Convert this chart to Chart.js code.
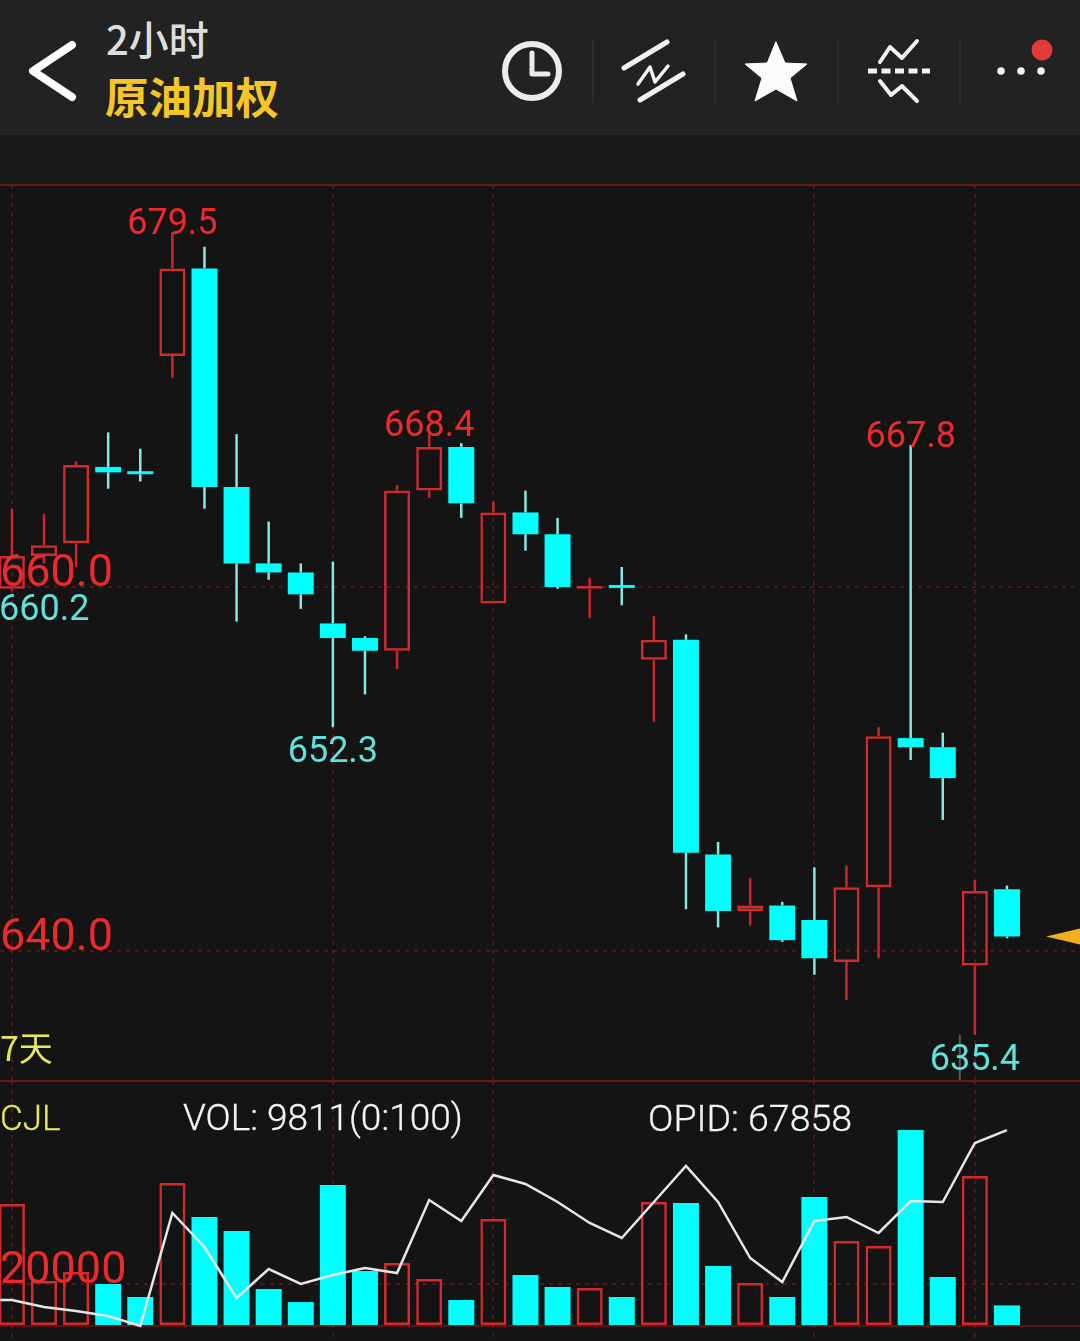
<!DOCTYPE html>
<html>
<head>
<meta charset="utf-8">
<script src="https://cdn.jsdelivr.net/npm/chart.js@4"></script>
<style>
html, body { margin: 0; padding: 0; background: #141415; }
#page { position: relative; width: 1080px; height: 1341px; overflow: hidden; background: #141415; font-family: Roboto, sans-serif; }
#head { position: absolute; left: 0; top: 0; width: 1080px; height: 135px; background: #222222; }
#band { position: absolute; left: 0; top: 135px; width: 1080px; height: 50px; background: #181818; }
#head svg { position: absolute; left: 0; top: 0; }
.txt { position: absolute; white-space: nowrap; line-height: 1; }
#period { left: 106px; top: 9px; font: 500 40px "Noto Sans CJK SC"; line-height: 58px; color: #dedede; }
#name { left: 105px; top: 64px; font: bold 43.5px "Noto Sans CJK SC"; line-height: 64px; color: #f5c52a; }
#days { left: 0; top: 1022px; font: 34px "Noto Sans CJK SC"; line-height: 50px; color: #e8e85a; }
#cjl { left: 0; top: 1098px; font: 300 35px Roboto; color: #e8e85a; -webkit-text-stroke: .3px #e8e85a; }
#vol { left: 183px; top: 1096px; font: 300 37px Roboto; color: #f4f4f4; -webkit-text-stroke: .3px #f4f4f4; }
#opid { left: 648px; top: 1096px; font: 300 37.5px Roboto; color: #f4f4f4; -webkit-text-stroke: .3px #f4f4f4; }
canvas { position: absolute; left: 0; }
#priceChart { top: 185px; }
#volChart { top: 1081px; }
.rule { position: absolute; left: 0; width: 1080px; height: 2px; background: #651a1e; }
</style>
</head>
<body>
<div id="page">
  <div id="head">
    <svg width="1080" height="135" fill="none" stroke-linecap="round" stroke-linejoin="round">
      <polyline points="72,45 33,71 72,97" stroke="#fff" stroke-width="8"/>
      <circle cx="532" cy="71" r="27" stroke="#ececec" stroke-width="6"/>
      <polyline points="532,53 532,74 548,74" stroke="#ececec" stroke-width="5"/>
      <g stroke="#2e2e2e" stroke-width="2">
        <line x1="593" y1="40" x2="593" y2="102"/>
        <line x1="715" y1="40" x2="715" y2="102"/>
        <line x1="838" y1="40" x2="838" y2="102"/>
        <line x1="960" y1="40" x2="960" y2="102"/>
      </g>
      <g stroke="#f2f2f2" stroke-width="5">
        <line x1="624" y1="68" x2="667" y2="42"/>
        <line x1="640" y1="100" x2="683" y2="74"/>
      </g>
      <polyline points="638,84 650,67 655,82 668,66" stroke="#f2f2f2" stroke-width="3.5"/>
      <polygon points="776,42 785,63 807,64 790,78 797,101 776,89 755,101 762,78 745,64 767,63" fill="#fbfbfb" stroke="#fbfbfb" stroke-width="1"/>
      <line x1="868" y1="71" x2="930" y2="71" stroke="#f2f2f2" stroke-width="5" stroke-dasharray="9 4.5" stroke-linecap="butt"/>
      <polyline points="880,62 890,47 902,58 917,41" stroke="#f2f2f2" stroke-width="4"/>
      <polyline points="880,81 891,95 902,86 917,101" stroke="#f2f2f2" stroke-width="4"/>
      <g fill="#f2f2f2">
        <circle cx="1001" cy="71" r="3.8"/>
        <circle cx="1021" cy="71" r="3.8"/>
        <circle cx="1041" cy="71" r="3.8"/>
      </g>
      <circle cx="1042" cy="50" r="10.5" fill="#e23a3a"/>
    </svg>
    <span class="txt" id="period">2小时</span>
    <span class="txt" id="name">原油加权</span>
  </div>
  <div id="band"></div>
  <div class="rule" style="top:184px"></div>
  <canvas id="priceChart" width="1080" height="896"></canvas>
  <div class="rule" style="top:1080px"></div>
  <canvas id="volChart" width="1080" height="260"></canvas>
  <span class="txt" id="days">7天</span>
  <span class="txt" id="cjl">CJL</span>
  <span class="txt" id="vol">VOL: 9811(0:100)</span>
  <span class="txt" id="opid">OPID: 67858</span>
</div>
<script>
const opens  = [659.9, 661.7, 662.4, 666.6, 666.3, 672.7, 677.5, 665.5, 661.3, 660.8, 658.0, 657.2, 656.5, 665.3, 667.7, 659.1, 664.1, 662.9, 659.9, 660.05, 656.0, 657.1, 645.3, 642.2, 642.5, 641.7, 639.4, 643.5, 651.7, 651.2, 639.2, 643.4];
const closes = [661.7, 662.3, 666.7, 666.3, 666.2, 677.5, 665.5, 661.3, 660.8, 659.6, 657.2, 656.5, 665.3, 667.7, 664.6, 664.1, 662.9, 660.0, 660.05, 659.95, 657.1, 645.4, 642.2, 642.5, 640.6, 639.6, 643.5, 651.8, 651.2, 649.5, 643.3, 640.8];
const highs  = [664.3, 664.0, 666.9, 668.5, 667.6, 679.5, 678.7, 668.4, 663.6, 661.3, 661.4, 657.3, 665.6, 668.4, 667.9, 664.7, 665.3, 663.8, 660.5, 661.1, 658.4, 657.4, 646.0, 644.0, 642.7, 644.6, 644.7, 652.3, 667.8, 652.0, 643.9, 643.6];
const lows   = [659.8, 661.3, 661.1, 665.4, 665.8, 671.5, 664.3, 658.1, 660.4, 658.8, 652.3, 654.1, 655.5, 664.9, 663.8, 659.1, 662.0, 659.9, 658.3, 659.0, 652.6, 642.3, 641.3, 641.4, 640.5, 638.7, 637.3, 639.6, 650.5, 647.2, 635.4, 640.7];
const volumes = [58100, 21400, 25700, 20000, 13800, 68100, 51900, 45200, 17600, 11400, 67100, 26200, 30000, 22400, 12400, 51000, 24300, 18600, 18100, 13800, 59000, 58600, 28600, 20500, 13800, 61400, 40500, 38100, 93300, 23300, 71400, 9811];
const opidBefore = 61060;
const opid = [61060, 60780, 60620, 60420, 60020, 64540, 63180, 61140, 62300, 61700, 62060, 62340, 62140, 65060, 64220, 66060, 65700, 64980, 64140, 63540, 64980, 66420, 64980, 62740, 61780, 64220, 64380, 63740, 65020, 64980, 67340, 67858];
const gridIndexes = [0, 10, 15, 25, 30];
const priceTicks = [660, 640];
const volumeTicks = [0, 20000];
const peakIndexes = [5, 13, 28];
const peakValues = [679.5, 668.4, 667.8];
const troughIndexes = [10, 30];
const troughValues = [652.3, 635.4];
const leftLowLabel = 660.2;
const markerIndex = 29.53;

const RED = "#d42a2c", CYAN = "#00ffff", GRID = "rgba(125,24,28,.6)";
const xRange = { min: -0.37, max: 33.275 };
const isUp = i => closes[i] >= opens[i];
const wickColor = ctx => isUp(ctx.dataIndex) ? "#c8282a" : "#84e8e4";

// mirrored tick labels must not shrink the plot
const noLabelPadding = axis => { axis.paddingTop = 0; axis.paddingBottom = 0; };

function xAxis() {
    return Object.assign({
        type: "linear",
        offset: false,
        afterBuildTicks: axis => { axis.ticks = gridIndexes.map(value => ({ value })); },
        ticks: { display: false },
        border: { display: false, dash: [4, 5] },
        grid: { offset: false, color: GRID, lineWidth: 2, drawTicks: false, tickLength: 0 }
    }, xRange);
}

const labelPlugin = {
    id: "priceLabels",
    afterDatasetsDraw(chart) {
        const { ctx, scales: { x, y } } = chart;
        ctx.save();
        ctx.font = "36px Roboto";
        ctx.textAlign = "center";
        ctx.textBaseline = "bottom";
        ctx.fillStyle = "#ec2a2c";
        peakIndexes.forEach((idx, n) => {
            ctx.fillText(peakValues[n].toFixed(1), x.getPixelForValue(idx), y.getPixelForValue(peakValues[n]) + 11);
        });
        ctx.textBaseline = "top";
        ctx.fillStyle = "#62e0dc";
        troughIndexes.forEach((idx, n) => {
            ctx.fillText(troughValues[n].toFixed(1), x.getPixelForValue(idx), y.getPixelForValue(troughValues[n]) + 8);
        });
        ctx.textAlign = "left";
        ctx.fillText(leftLowLabel.toFixed(1), -1, y.getPixelForValue(leftLowLabel) + 10);

        // last price arrow at the right edge
        const py = y.getPixelForValue(closes[closes.length - 1]);
        ctx.fillStyle = "#f4ad1e";
        ctx.beginPath();
        ctx.moveTo(1046, py);
        ctx.lineTo(1080, py - 8);
        ctx.lineTo(1080, py + 8);
        ctx.closePath();
        ctx.fill();
        ctx.restore();
    }
};

new Chart(document.getElementById("priceChart"), {
    type: "bar",
    data: {
        datasets: [
            {
                label: "upper wick",
                data: opens.map((o, i) => ({ x: i, y: [Math.max(o, closes[i]), highs[i]] })),
                backgroundColor: wickColor,
                barThickness: 2.5
            },
            {
                label: "lower wick",
                data: opens.map((o, i) => ({ x: i, y: [lows[i], Math.min(o, closes[i])] })),
                backgroundColor: wickColor,
                barThickness: 2.5
            },
            {
                label: "body",
                data: opens.map((o, i) => ({ x: i, y: [o, closes[i]] })),
                backgroundColor: ctx => isUp(ctx.dataIndex) ? "rgba(0,0,0,0)" : CYAN,
                borderColor: ctx => isUp(ctx.dataIndex) ? RED : CYAN,
                borderWidth: ctx => isUp(ctx.dataIndex) ? 2.5 : 0,
                borderSkipped: false,
                minBarLength: 3,
                barThickness: 26
            },
            {
                label: "low marker",
                data: [{ x: markerIndex, y: [632.86, 635.4] }],
                backgroundColor: "#5a5a5a",
                barThickness: 2
            }
        ]
    },
    options: {
        responsive: false,
        animation: false,
        layout: { padding: 0 },
        datasets: { bar: { grouped: false, inflateAmount: 0 } },
        plugins: { legend: { display: false }, tooltip: { enabled: false } },
        scales: {
            x: xAxis(),
            y: {
                min: 632.86,
                max: 682.09,
                afterBuildTicks: axis => { axis.ticks = priceTicks.map(value => ({ value })); },
                afterFit: noLabelPadding,
                border: { display: false, dash: [4, 5] },
                grid: { color: GRID, lineWidth: 2, drawTicks: false, tickLength: 0 },
                ticks: {
                    mirror: true,
                    padding: 0,
                    z: 1,
                    labelOffset: -12,
                    autoSkip: false,
                    color: "#ec2a2c",
                    font: { family: "Roboto", size: 45 },
                    callback: v => v.toFixed(1)
                }
            }
        }
    },
    plugins: [labelPlugin]
});

new Chart(document.getElementById("volChart"), {
    type: "bar",
    data: {
        datasets: [
            {
                type: "line",
                label: "OPID",
                yAxisID: "y2",
                order: 0,
                data: [{ x: -1, y: opidBefore }].concat(opid.map((v, i) => ({ x: i, y: v }))),
                borderColor: "#e6e6e6",
                borderWidth: 2.5,
                pointRadius: 0,
                tension: 0
            },
            {
                label: "VOL",
                order: 1,
                data: volumes.map((v, i) => ({ x: i, y: v })),
                backgroundColor: ctx => isUp(ctx.dataIndex) ? "rgba(0,0,0,0)" : CYAN,
                borderColor: ctx => isUp(ctx.dataIndex) ? RED : CYAN,
                borderWidth: ctx => isUp(ctx.dataIndex) ? 2.5 : 0,
                borderSkipped: false,
                inflateAmount: 0,
                barThickness: 26
            }
        ]
    },
    options: {
        responsive: false,
        animation: false,
        layout: { padding: 0 },
        plugins: { legend: { display: false }, tooltip: { enabled: false } },
        scales: {
            x: xAxis(),
            y: {
                min: -7143,
                max: 116667,
                afterBuildTicks: axis => { axis.ticks = volumeTicks.map(value => ({ value })); },
                afterFit: noLabelPadding,
                border: { display: false, dash: ctx => ctx.tick && ctx.tick.value === 0 ? [] : [4, 5] },
                grid: { color: GRID, lineWidth: 2, drawTicks: false, tickLength: 0 },
                ticks: {
                    mirror: true,
                    padding: 0,
                    z: 1,
                    labelOffset: -12,
                    autoSkip: false,
                    color: "#ec2a2c",
                    font: { family: "Roboto", size: 45 },
                    callback: v => v === 0 ? "" : String(v)
                }
            },
            y2: {
                display: false,
                min: 59420,
                max: 69820
            }
        }
    }
});
</script>
</body>
</html>
